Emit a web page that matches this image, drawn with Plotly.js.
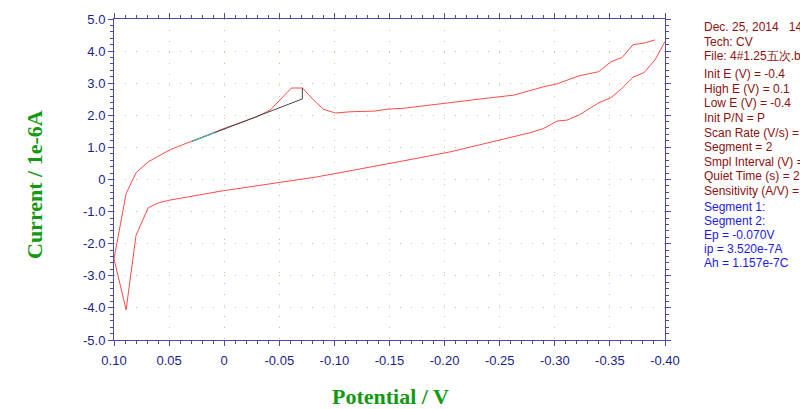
<!DOCTYPE html>
<html>
<head>
<meta charset="utf-8">
<script src="https://cdn.plot.ly/plotly-3.0.1.min.js"></script>
<style>
  body { margin: 0; background: #fff; }
  #cv_graph { width: 800px; height: 409px; }
</style>
</head>
<body>
<div id="cv_graph"></div>
<script>
// CV scan (potential in V, current in 1e-6 A)
const potential = [
  -0.391, -0.381, -0.371, -0.361, -0.351, -0.340, -0.322, -0.311, -0.302, -0.290,
  -0.278, -0.263, -0.233, -0.205, -0.181, -0.163, -0.148, -0.136, -0.114, -0.101,
  -0.090, -0.081, -0.071, -0.061, -0.042, -0.030, 0.000, 0.030, 0.049, 0.069,
  0.080, 0.089, 0.100,
  0.089, 0.080, 0.069, 0.059, 0.049, 0.025, 0.001, -0.023, -0.051, -0.084,
  -0.114, -0.145, -0.150, -0.175, -0.205, -0.230, -0.255, -0.278, -0.290, -0.302,
  -0.311, -0.322, -0.340, -0.351, -0.361, -0.371, -0.381, -0.391, -0.400
];
const current = [
  4.35, 4.25, 4.20, 3.80, 3.67, 3.36, 3.23, 3.08, 2.98, 2.89,
  2.77, 2.63, 2.51, 2.39, 2.29, 2.22, 2.19, 2.13, 2.11, 2.07,
  2.19, 2.48, 2.85, 2.85, 2.17, 1.96, 1.59, 1.18, 0.93, 0.55,
  0.21, -0.44, -2.47,
  -4.06, -1.74, -0.88, -0.72, -0.64, -0.49, -0.35, -0.23, -0.08, 0.08,
  0.27, 0.46, 0.50, 0.66, 0.86, 1.06, 1.28, 1.46, 1.59, 1.82,
  1.85, 2.01, 2.39, 2.55, 2.84, 3.19, 3.33, 3.73, 4.30
];

// peak baseline and peak height marker
const base_x = [0.0296, -0.0709, -0.0709];
const base_y = [1.18, 2.51, 2.86];
const cyan_x = [0.0296, 0.0085];
const cyan_y = [1.18, 1.46];

// tick labels
const x_ticks = [0.10, 0.05, 0, -0.05, -0.10, -0.15, -0.20, -0.25, -0.30, -0.35, -0.40];
const x_labels = ["0.10", "0.05", "0", "-0.05", "-0.10", "-0.15", "-0.20", "-0.25", "-0.30", "-0.35", "-0.40"];
const y_ticks = [5, 4, 3, 2, 1, 0, -1, -2, -3, -4, -5];
const y_labels = ["5.0", "4.0", "3.0", "2.0", "1.0", "0", "-1.0", "-2.0", "-3.0", "-4.0", "-5.0"];

// info panel text
const info_lines = [
  "Dec. 25, 2014   14:36:52",
  "Tech: CV",
  "File: 4#1.25五次.bin",
  "",
  "Init E (V) = -0.4",
  "High E (V) = 0.1",
  "Low E (V) = -0.4",
  "Init P/N = P",
  "Scan Rate (V/s) = 0.05",
  "Segment = 2",
  "Smpl Interval (V) = 0.001",
  "Quiet Time (s) = 2",
  "Sensitivity (A/V) = 1e-5"
];
const result_lines = [
  "Segment 1:",
  "Segment 2:",
  "Ep = -0.070V",
  "ip = 3.520e-7A",
  "Ah = 1.157e-7C"
];

const axis_color = "#4a4aa8";
const label_color = "#1c1c8c";
const title_color = "#119911";

const traces = [{
    type: "scatter",
    mode: "lines",
    x: potential,
    y: current,
    line: { color: "#ff4a4a", width: 1 },
    hoverinfo: "skip"
}, {
    type: "scatter",
    mode: "lines",
    x: base_x,
    y: base_y,
    line: { color: "#444444", width: 1 },
    hoverinfo: "skip"
}, {
    type: "scatter",
    mode: "lines",
    x: cyan_x,
    y: cyan_y,
    line: { color: "#33cccc", width: 1 },
    hoverinfo: "skip"
}];

// annotations for the text panel (clipped at the right edge like the original)
const annotations = [];
let y_px = 27;
info_lines.forEach(function (txt) {
    if (txt !== "") {
        annotations.push({
            xref: "paper", yref: "paper",
            x: (702 - 114) / 551, y: 1 - (y_px - 19) / 321,
            xanchor: "left", yanchor: "middle",
            text: txt, showarrow: false,
            font: { family: "Liberation Sans, Arial", size: 12, color: "#8c1010" }
        });
        y_px += 14.6;
    } else {
        y_px += 3.5;
    }
});
y_px = 207;
result_lines.forEach(function (txt) {
    annotations.push({
        xref: "paper", yref: "paper",
        x: (702 - 114) / 551, y: 1 - (y_px - 19) / 321,
        xanchor: "left", yanchor: "middle",
        text: txt, showarrow: false,
        font: { family: "Liberation Sans, Arial", size: 12, color: "#1a1aee" }
    });
    y_px += 14;
});

// axis titles
annotations.push({
    xref: "paper", yref: "paper",
    x: (390 - 114) / 551, y: 1 - (396 - 19) / 321,
    xanchor: "center", yanchor: "middle",
    text: "<b>Potential / V</b>", showarrow: false,
    font: { family: "Liberation Serif, Times New Roman", size: 22, color: title_color }
});
annotations.push({
    xref: "paper", yref: "paper",
    x: (35 - 114) / 551, y: 1 - (185 - 19) / 321,
    xanchor: "center", yanchor: "middle",
    text: "<b>Current / 1e-6A</b>", showarrow: false, textangle: -90,
    font: { family: "Liberation Serif, Times New Roman", size: 22, color: title_color }
});

Plotly.newPlot("cv_graph", traces, {
    width: 800,
    height: 409,
    margin: { l: 114, r: 135, t: 19, b: 69 },
    showlegend: false,
    plot_bgcolor: "#ffffff",
    paper_bgcolor: "#ffffff",
    font: { family: "Liberation Sans, Arial", size: 13, color: label_color },

    xaxis: {
        range: [0.10, -0.40],
        tickvals: x_ticks,
        ticktext: x_labels,
        ticks: "outside",
        ticklen: 5,
        ticklabelstandoff: 3,
        tickcolor: axis_color,
        linecolor: axis_color,
        linewidth: 1,
        mirror: "ticks",
        showgrid: true,
        gridcolor: "#c8c890",
        griddash: "1px,10px",
        zeroline: false,
        minor: { dtick: 0.01, ticks: "outside", ticklen: 3, tickcolor: axis_color, showgrid: false },
        tickfont: { size: 13, color: label_color }
    },

    yaxis: {
        range: [-5, 5],
        tickvals: y_ticks,
        ticktext: y_labels,
        ticks: "outside",
        ticklen: 5,
        tickcolor: axis_color,
        linecolor: axis_color,
        linewidth: 1,
        mirror: "ticks",
        showgrid: true,
        gridcolor: "#c8c890",
        griddash: "1px,10px",
        zeroline: false,
        minor: { dtick: 0.2, ticks: "outside", ticklen: 3, tickcolor: axis_color, showgrid: false },
        tickfont: { size: 13, color: label_color }
    },

    annotations: annotations
}, { staticPlot: true });
</script>
</body>
</html>
